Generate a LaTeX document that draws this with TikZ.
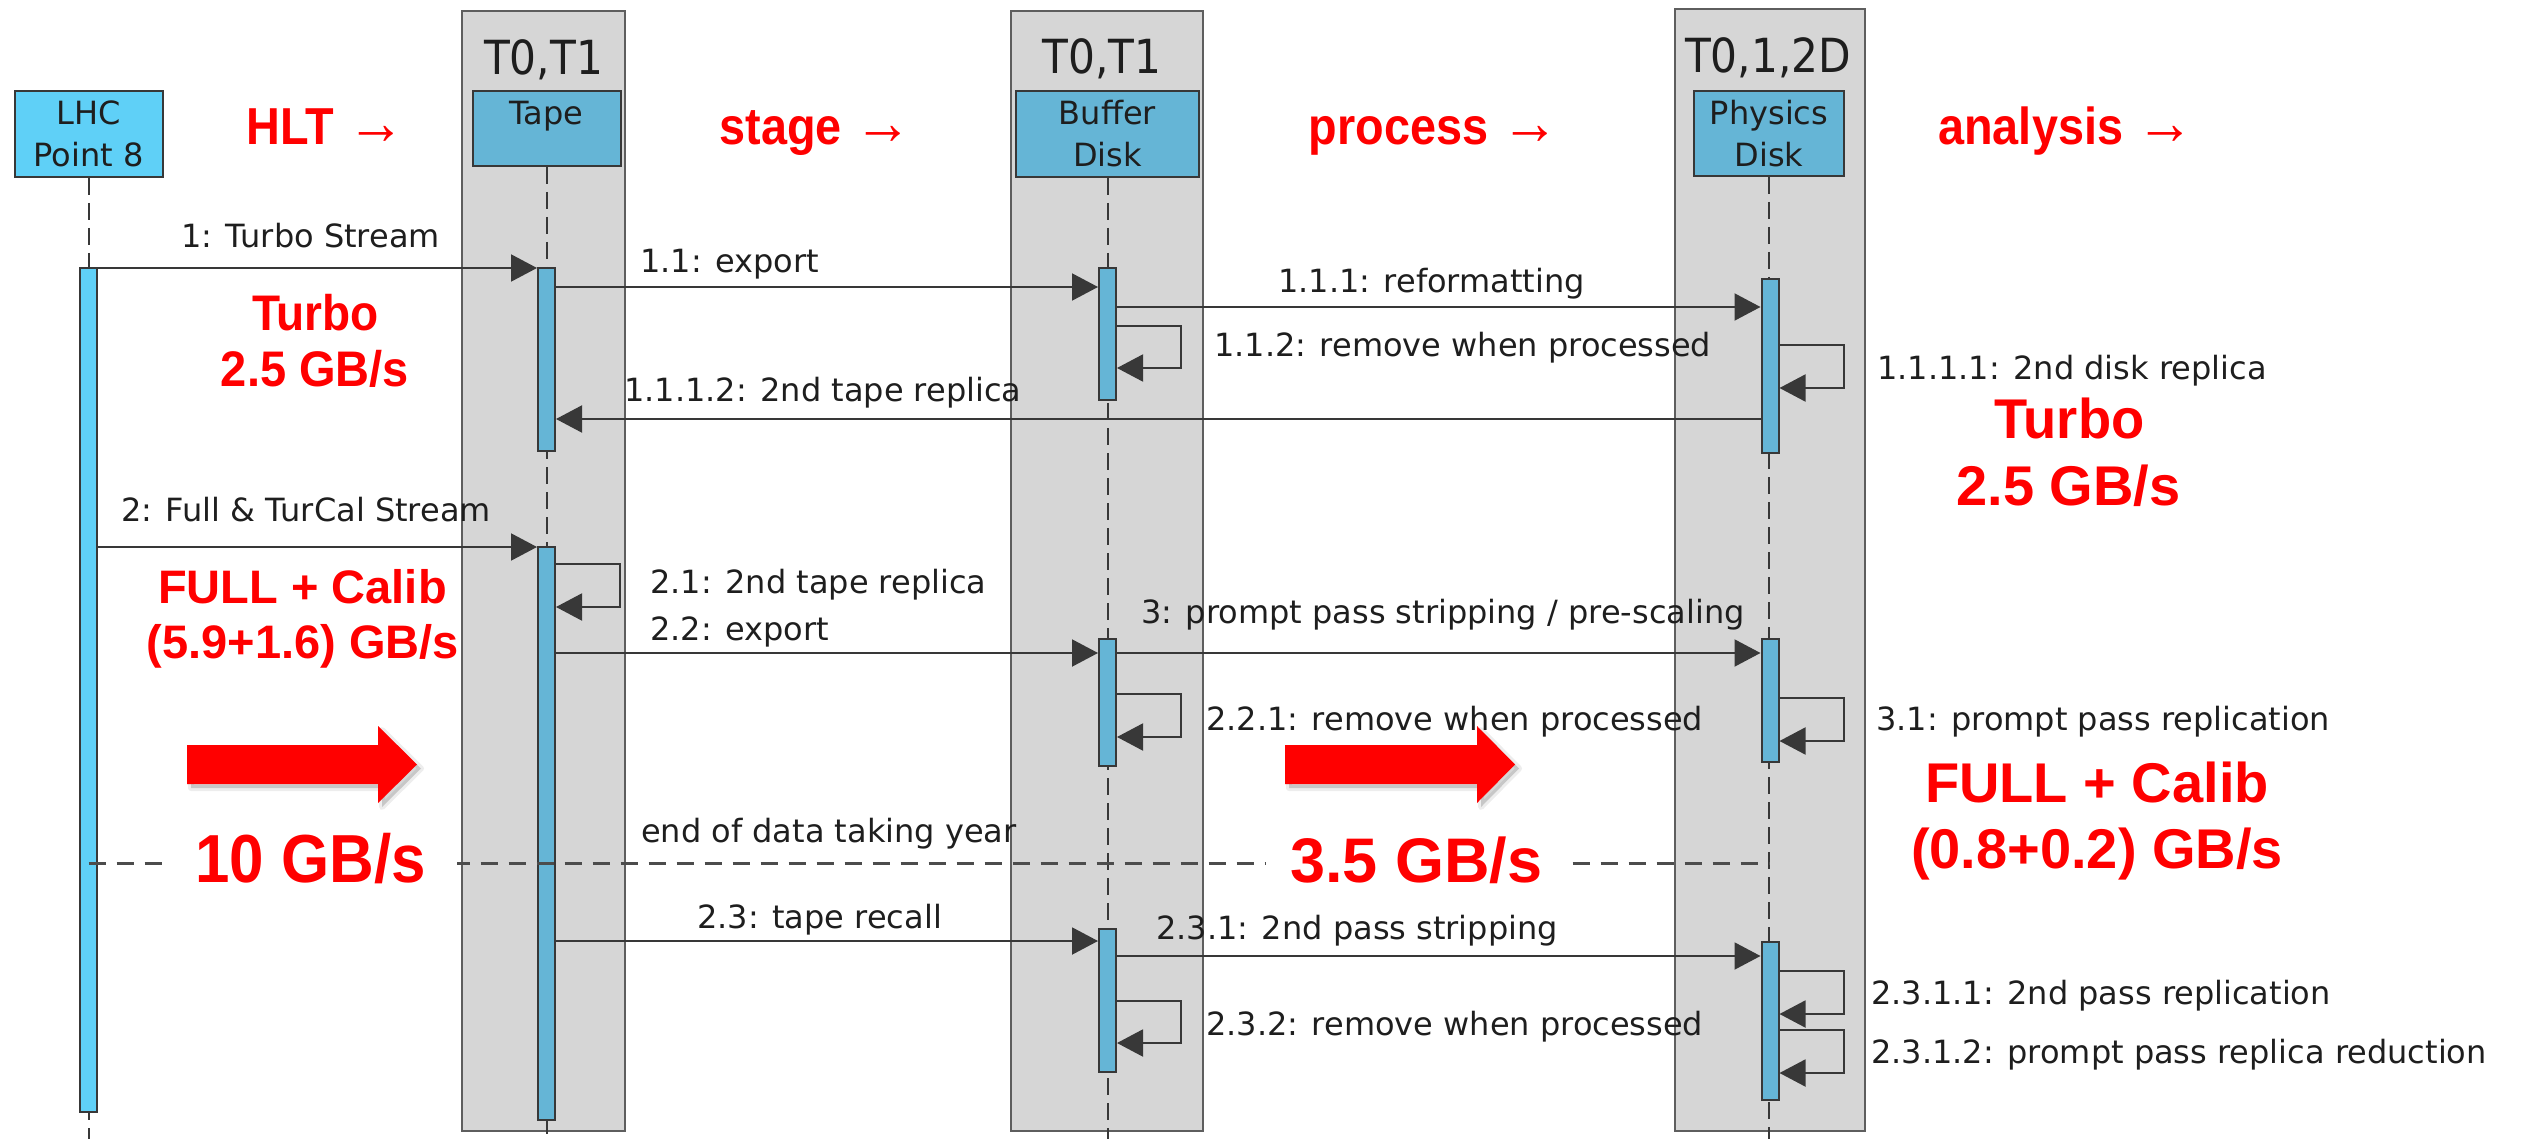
\documentclass[tikz,border=0pt]{standalone}
\usepackage{fontspec}
\setmainfont{DejaVu Sans}
\newfontfamily\redfont{Liberation Sans}
\newfontfamily\arrfont{Liberation Serif}
\usetikzlibrary{arrows.meta}

\definecolor{groupfill}{HTML}{D6D6D6}
\definecolor{groupedge}{HTML}{5E5E5E}
\definecolor{partfill}{HTML}{65B5D6}
\definecolor{lhcfill}{HTML}{5FD0F7}
\definecolor{lineclr}{HTML}{383838}
\definecolor{txtclr}{HTML}{1E1E1E}
\definecolor{hot}{HTML}{FF0000}

\newcommand\hotfs[1]{\redfont\bfseries\fontsize{#1}{#1}\selectfont}
\newcommand\nextarrow{{\arrfont\fontsize{64}{64}\selectfont →}}

\tikzset{
  group/.style={draw=groupedge, fill=groupfill, line width=2.5pt, inner sep=0pt},
  partbox/.style={draw=lineclr, fill=partfill, line width=2pt, inner sep=0pt,
    font=\fontsize{32}{42}\selectfont, text=txtclr, align=center},
  actbar/.style={draw=lineclr, fill=partfill, line width=2pt, inner sep=0pt, minimum width=17pt},
  lifeline/.style={draw=lineclr, line width=2pt, dash pattern=on 17pt off 8pt},
  msg/.style={draw=lineclr, line width=2pt, -{Triangle[length=26pt,width=27pt]}},
  lbl/.style={font=\fontsize{32}{38}\selectfont, text=txtclr, inner sep=0pt, anchor=base west},
  hdr/.style={font=\fontsize{47}{52}\selectfont, text=txtclr, inner sep=0pt, anchor=base, xscale=0.9},
  hotlbl/.style={text=hot, inner sep=0pt, anchor=base},
  yearline/.style={draw=lineclr!90, line width=3pt, dash pattern=on 17pt off 11pt},
}

% activation bar: [fill]{name}{x}{top}{bottom}
\newcommand\lifebar[5][partfill]{%
  \node[actbar, fill=#1, minimum height={#5-#4}] (#2) at (#3,{(#4+#5)/2}) {};}
% self call on an activation bar: {bar}{y out}{y back}
\newcommand\selfcall[3]{%
  \draw[msg] (#1.east |- 0,#2) -- ++(64,0) |- (#1.east |- 0,#3);}
% thick red arrow with soft shadow: {left x}{head base x}{tip x}
\newcommand\fatarrow[3]{%
  \begin{scope}[shift={(4,4)}]
    \fill[black, opacity=0.16] (#1,745) -- (#2,745) -- (#2,726) -- (#3,764.5)
      -- (#2,803) -- (#2,784) -- (#1,784) -- cycle;
    \draw[black, opacity=0.07, line width=6pt, line join=round] (#1,745) -- (#2,745)
      -- (#2,726) -- (#3,764.5) -- (#2,803) -- (#2,784) -- (#1,784) -- cycle;
  \end{scope}
  \fill[hot] (#1,745) -- (#2,745) -- (#2,726) -- (#3,764.5)
    -- (#2,803) -- (#2,784) -- (#1,784) -- cycle;}

\begin{document}
\begin{tikzpicture}[x=1pt,y=-1pt]
\useasboundingbox (0,0) rectangle (2527,1139);

% site groups
\node[group, minimum width=163pt, minimum height=1120pt] (gTape) at (543.5,571) {};
\node[group, minimum width=192pt, minimum height=1120pt] (gBuf) at (1107,571) {};
\node[group, minimum width=190pt, minimum height=1122pt] (gPhys) at (1770,570) {};

\node[hdr] (hTape) at (543.5,75) {T0,T1};
\node[hdr] (hBuf) at (1102,74) {T0,T1};
\node[hdr] (hPhys) at (1768,73) {T0,1,2D};

% participants
\node[partbox, fill=lhcfill, minimum width=148pt, minimum height=86pt] (lhc) at (88.5,134) {LHC\\Point 8};
\node[partbox, minimum width=148pt, minimum height=75pt] (tape) at (546.5,128.5) {};
\node[lbl, anchor=base] (tapeName) at (546.5,125) {Tape};
\node[partbox, minimum width=183pt, minimum height=86pt] (buf) at (1107.5,134) {Buffer\\Disk};
\node[partbox, minimum width=150pt, minimum height=85pt] (phys) at (1769,133.5) {Physics\\Disk};

% lifelines
\foreach \p in {lhc,tape,buf,phys}
  \draw[lifeline] (\p.south) -- (\p.south |- 0,1139);

% activation bars
\lifebar[lhcfill]{lhcA}{88.5}{268}{1112}
\lifebar{tA1}{546.5}{268}{451}
\lifebar{tA2}{546.5}{547}{1120}
\lifebar{bA1}{1107.5}{268}{400}
\lifebar{bA2}{1107.5}{639}{766}
\lifebar{bA3}{1107.5}{929}{1072}
\lifebar{pA1}{1770}{279}{453}
\lifebar{pA2}{1770}{639}{762}
\lifebar{pA3}{1770}{942}{1100}

% Turbo stream
\draw[msg] (lhcA.east |- 0,268) -- (tA1.west |- 0,268);
\node[lbl] (m1) at (181,248) {1: Turbo Stream};
\draw[msg] (tA1.east |- 0,287) -- (bA1.west |- 0,287);
\node[lbl] (m11) at (640,273) {1.1: export};
\draw[msg] (bA1.east |- 0,307) -- (pA1.west |- 0,307);
\node[lbl] (m111) at (1278,293) {1.1.1: reformatting};
\selfcall{bA1}{326}{368}
\node[lbl] (m112) at (1214,357) {1.1.2: remove when processed};
\selfcall{pA1}{345}{388}
\node[lbl] (m1111) at (1877,380) {1.1.1.1: 2nd disk replica};
\draw[msg] (pA1.west |- 0,419) -- (tA1.east |- 0,419);
\node[lbl] (m1112) at (624,402) {1.1.1.2: 2nd tape replica};

% Full & TurCal stream
\draw[msg] (lhcA.east |- 0,547) -- (tA2.west |- 0,547);
\node[lbl] (m2) at (121,521) {2: Full \& TurCal Stream};
\selfcall{tA2}{564}{607}
\node[lbl] (m21) at (650,593) {2.1: 2nd tape replica};
\draw[msg] (tA2.east |- 0,653) -- (bA2.west |- 0,653);
\node[lbl] (m22) at (650,640) {2.2: export};
\draw[msg] (bA2.east |- 0,653) -- (pA2.west |- 0,653);
\node[lbl] (m3) at (1141,623) {3: prompt pass stripping / pre-scaling};
\selfcall{bA2}{694}{737}
\node[lbl] (m221) at (1206,730) {2.2.1: remove when processed};
\selfcall{pA2}{698}{741}
\node[lbl] (m31) at (1876,730) {3.1: prompt pass replication};

% end of year
\draw[yearline] (lhcA.center |- 0,863) -- (phys.south |- 0,863);
\node[lbl] (eoy) at (641,842) {end of data taking year};

% re-processing
\draw[msg] (tA2.east |- 0,941) -- (bA3.west |- 0,941);
\node[lbl] (m23) at (697,928) {2.3: tape recall};
\draw[msg] (bA3.east |- 0,956) -- (pA3.west |- 0,956);
\node[lbl] (m231) at (1156,939) {2.3.1: 2nd pass stripping};
\selfcall{bA3}{1001}{1043}
\node[lbl] (m232) at (1206,1035) {2.3.2: remove when processed};
\selfcall{pA3}{971}{1014}
\node[lbl] (m2311) at (1871,1004) {2.3.1.1: 2nd pass replication};
\selfcall{pA3}{1030}{1073}
\node[lbl] (m2312) at (1871,1063) {2.3.1.2: prompt pass replica reduction};

% stage headings
\node[hotlbl, font=\hotfs{52}, xscale=0.9] (sHLT) at (326,145) {HLT \nextarrow};
\node[hotlbl, font=\hotfs{52}, xscale=0.9] (sStage) at (816,145) {stage \nextarrow};
\node[hotlbl, font=\hotfs{52}, xscale=0.9] (sProc) at (1434,145) {process \nextarrow};
\node[hotlbl, font=\hotfs{52}, xscale=0.9] (sAna) at (2066,145) {analysis \nextarrow};

% rates
\node[hotlbl, font=\hotfs{50}, xscale=0.92] (rT1) at (315.5,331) {Turbo};
\node[hotlbl, font=\hotfs{50}, xscale=0.94] (rT1v) at (315,387) {2.5 GB/s};
\node[hotlbl, font=\hotfs{47}] (rF1) at (302.5,603) {FULL + Calib};
\node[hotlbl, font=\hotfs{47}] (rF1v) at (303,658) {(5.9+1.6) GB/s};
\node[hotlbl, font=\hotfs{68}, xscale=0.91, fill=white, inner xsep=34pt] (rTot) at (310.5,882) {10 GB/s};
\node[hotlbl, font=\hotfs{63}, fill=white, inner xsep=24pt] (rProc) at (1416.5,882) {3.5 GB/s};
\node[hotlbl, font=\hotfs{56}, xscale=0.97] (rT2) at (2069.5,438) {Turbo};
\node[hotlbl, font=\hotfs{56}] (rT2v) at (2068.5,505) {2.5 GB/s};
\node[hotlbl, font=\hotfs{56}] (rF2) at (2097,802) {FULL + Calib};
\node[hotlbl, font=\hotfs{56}] (rF2v) at (2097,868) {(0.8+0.2) GB/s};

% flow arrows
\fatarrow{187}{378}{417}
\fatarrow{1285}{1477}{1515}
\end{tikzpicture}
\end{document}
